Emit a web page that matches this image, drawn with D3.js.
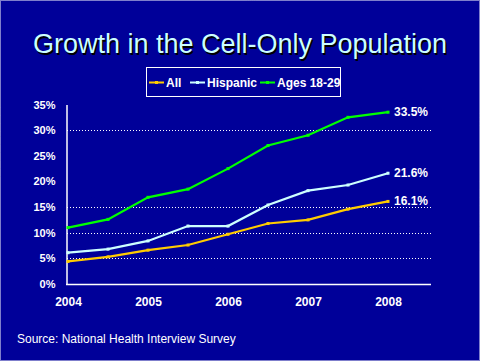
<!DOCTYPE html>
<html><head><meta charset="utf-8">
<script src="https://cdn.jsdelivr.net/npm/d3@7/dist/d3.min.js"></script>
<style>html,body{margin:0;padding:0;background:#000099;overflow:hidden}</style>
</head><body>
<svg id="chart" width="480" height="361"></svg>
<script>
const periods = [2004, 2004.5, 2005, 2005.5, 2006, 2006.5, 2007, 2007.5, 2008];
const allValues = [4.4, 5.3, 6.6, 7.6, 9.7, 11.8, 12.5, 14.6, 16.1];
const hispanicValues = [6.1, 6.8, 8.4, 11.3, 11.3, 15.4, 18.2, 19.3, 21.6];
const youngValues = [11.0, 12.6, 16.9, 18.5, 22.5, 27.0, 29.0, 32.5, 33.5];
const seriesNames = ["All", "Hispanic", "Ages 18-29"];
const seriesColors = ["#ffcc00", "#ccffff", "#00ff00"];
const endLabels = ["16.1%", "21.6%", "33.5%"];
const yTicks = [0, 5, 10, 15, 20, 25, 30, 35];
const gridTicks = [5, 10, 15, 30];
const xTicks = [2004, 2005, 2006, 2007, 2008];

const svg = d3.select("#chart");
const W = 480, H = 361;
svg.append("rect").attr("x",0).attr("y",0).attr("width",W).attr("height",H).attr("fill","#000099");
svg.append("rect").attr("x",0.5).attr("y",0.5).attr("width",W-1).attr("height",H-1)
  .attr("fill","none").attr("stroke","#fff").attr("stroke-width",1).attr("stroke-dasharray","1,1");

// title
const title = "Growth in the Cell-Only Population";
svg.append("text").attr("x",241.5).attr("y",54.5).attr("text-anchor","middle")
  .attr("font-family","Arial, 'Liberation Sans', sans-serif").attr("font-size",27)
  .attr("fill","#000").text(title);
svg.append("text").attr("x",240).attr("y",53).attr("text-anchor","middle")
  .attr("font-family","Arial, 'Liberation Sans', sans-serif").attr("font-size",27)
  .attr("fill","#ccffff").text(title);

const x = d3.scaleLinear().domain([2004, 2008]).range([68, 388]);
const y = d3.scaleLinear().domain([0, 35]).range([284, 104.5]);

// gridlines
svg.append("g").selectAll("line").data(gridTicks).join("line")
  .attr("x1",67).attr("x2",431).attr("y1",d=>Math.round(y(d))+0.5).attr("y2",d=>Math.round(y(d))+0.5)
  .attr("stroke","#fff").attr("stroke-width",1).attr("stroke-dasharray","1,2");

// axes
const yAxis = d3.axisLeft(y).tickValues(yTicks).tickSize(0).tickPadding(11).tickFormat(d=>d+"%");
const gy = svg.append("g").attr("transform","translate(66.5,0)").call(yAxis);
gy.select(".domain").attr("stroke","#fff").attr("stroke-width",1.5);
gy.selectAll("text").attr("fill","#fff").attr("font-family","Arial, 'Liberation Sans', sans-serif")
  .attr("font-size",11).attr("font-weight","bold");

const xAxis = d3.axisBottom(x).tickValues(xTicks).tickSize(0).tickPadding(13).tickFormat(d3.format("d"));
const gx = svg.append("g").attr("transform","translate(0,284.5)").call(xAxis);
gx.select(".domain").remove();
gx.selectAll("text").attr("fill","#fff").attr("font-family","Arial, 'Liberation Sans', sans-serif")
  .attr("font-size",12).attr("font-weight","bold");
svg.append("line").attr("x1",66).attr("x2",431).attr("y1",284.5).attr("y2",284.5)
  .attr("stroke","#fff").attr("stroke-width",1.5);

// lines
const seriesData = [allValues, hispanicValues, youngValues];
const line = d3.line().x((d,i)=>x(periods[i])).y(d=>y(d));
seriesData.forEach((vals, k) => {
  svg.append("path").datum(vals).attr("d", line).attr("fill","none")
    .attr("stroke", seriesColors[k]).attr("stroke-width", 2.2);
  svg.append("g").selectAll("rect").data(vals).join("rect")
    .attr("x",(d,i)=>x(periods[i])-1.5).attr("y",d=>y(d)-1.5).attr("width",3).attr("height",3)
    .attr("fill", seriesColors[k]);
  svg.append("text").attr("x", x(2008)+6).attr("y", y(vals[vals.length-1])+4)
    .attr("fill","#fff").attr("font-family","Arial, 'Liberation Sans', sans-serif")
    .attr("font-size",12).attr("font-weight","bold").text(endLabels[k]);
});

// legend
svg.append("rect").attr("x",146.5).attr("y",67.5).attr("width",194).attr("height",29)
  .attr("fill","none").attr("stroke","#fff").attr("stroke-width",1);
const legendX = [149, 190, 260];
seriesNames.forEach((name, k) => {
  const lx = legendX[k];
  svg.append("line").attr("x1",lx).attr("x2",lx+15).attr("y1",82.5).attr("y2",82.5)
    .attr("stroke",seriesColors[k]).attr("stroke-width",2);
  svg.append("rect").attr("x",lx+6).attr("y",81).attr("width",3).attr("height",3).attr("fill",seriesColors[k]);
  svg.append("text").attr("x",lx+17).attr("y",86.5).attr("fill","#fff")
    .attr("font-family","Arial, 'Liberation Sans', sans-serif").attr("font-size",12)
    .attr("font-weight","bold").text(name);
});

// source
svg.append("text").attr("x",17).attr("y",343).attr("fill","#fff")
  .attr("font-family","Arial, 'Liberation Sans', sans-serif").attr("font-size",12)
  .text("Source: National Health Interview Survey");
</script>
</body></html>
